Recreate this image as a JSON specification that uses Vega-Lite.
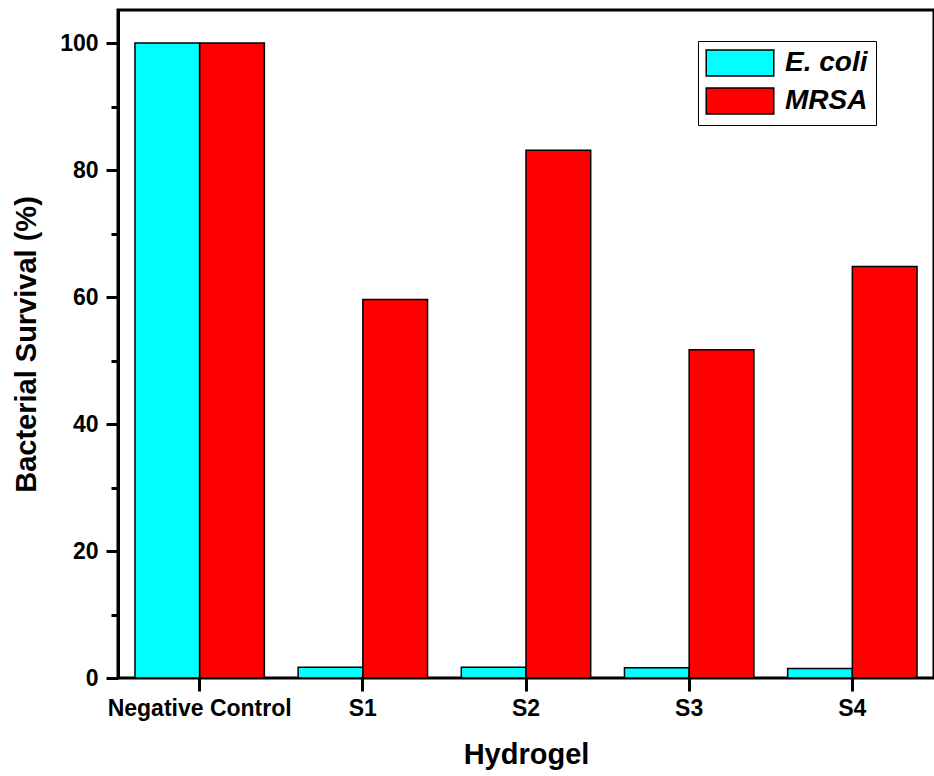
{
  "$schema": "https://vega.github.io/schema/vega-lite/v6.json",
  "autosize": "none",
  "padding": {"left": 118, "top": 10, "right": 0, "bottom": 98},
  "width": 816,
  "height": 668,
  "background": "white",
  "config": {
    "view": {"stroke": "black", "strokeWidth": 3},
    "font": "Liberation Sans",
    "axis": {"domainColor": "black", "domainWidth": 3, "tickColor": "black", "tickWidth": 3, "labelColor": "black", "titleColor": "black", "labelFont": "Liberation Sans", "titleFont": "Liberation Sans", "labelFontWeight": "bold", "titleFontWeight": "bold", "labelFontSize": 23, "titleFontSize": 29, "grid": false}
  },
  "data": {
    "values": [
      {"hydrogel": "Negative Control", "species": "E. coli", "survival": 100},
      {"hydrogel": "Negative Control", "species": "MRSA", "survival": 100},
      {"hydrogel": "S1", "species": "E. coli", "survival": 1.7},
      {"hydrogel": "S1", "species": "MRSA", "survival": 59.6},
      {"hydrogel": "S2", "species": "E. coli", "survival": 1.7},
      {"hydrogel": "S2", "species": "MRSA", "survival": 83.1},
      {"hydrogel": "S3", "species": "E. coli", "survival": 1.6},
      {"hydrogel": "S3", "species": "MRSA", "survival": 51.7},
      {"hydrogel": "S4", "species": "E. coli", "survival": 1.5},
      {"hydrogel": "S4", "species": "MRSA", "survival": 64.8}
    ]
  },
  "mark": {"type": "bar", "stroke": "black", "strokeWidth": 1.5},
  "encoding": {
    "x": {
      "field": "hydrogel", "type": "nominal", "sort": ["Negative Control", "S1", "S2", "S3", "S4"],
      "scale": {"paddingInner": 0.207, "paddingOuter": 0.104},
      "axis": {"title": "Hydrogel", "labelAngle": 0, "labelLimit": 0, "bandPosition": 0.5, "tickSize": 13, "labelPadding": 6, "titlePadding": 20, "domain": false}
    },
    "xOffset": {"field": "species", "type": "nominal", "sort": ["E. coli", "MRSA"], "scale": {"paddingInner": 0, "paddingOuter": 0}},
    "y": {
      "field": "survival", "type": "quantitative",
      "scale": {"domain": [0, 105.2], "nice": false, "zero": true},
      "axis": {
        "title": "Bacterial Survival (%)",
        "values": [0, 10, 20, 30, 40, 50, 60, 70, 80, 90, 100],
        "labelExpr": "datum.value % 20 === 0 ? datum.label : ''",
        "tickSize": {"condition": {"test": "datum.value % 20 === 0", "value": 12}, "value": 7},
        "labelPadding": 8,
        "titlePadding": 18
      }
    },
    "color": {
      "field": "species", "type": "nominal",
      "scale": {"domain": ["E. coli", "MRSA"], "range": ["#00FFFF", "#FF0000"]},
      "legend": {
        "title": null, "orient": "none", "legendX": 580, "legendY": 31,
        "strokeColor": "black", "fillColor": "white", "padding": 8,
        "symbolType": "M-2.6,-1H2.6V1H-2.6Z", "symbolSize": 676, "symbolOffset": 20,
        "symbolStrokeColor": "black", "symbolStrokeWidth": 1.5, "symbolOpacity": 1,
        "labelFont": "Liberation Sans", "labelFontWeight": "bold", "labelFontStyle": "italic", "labelFontSize": 28, "labelColor": "black",
        "rowPadding": 6, "labelOffset": 31
      }
    }
  }
}
